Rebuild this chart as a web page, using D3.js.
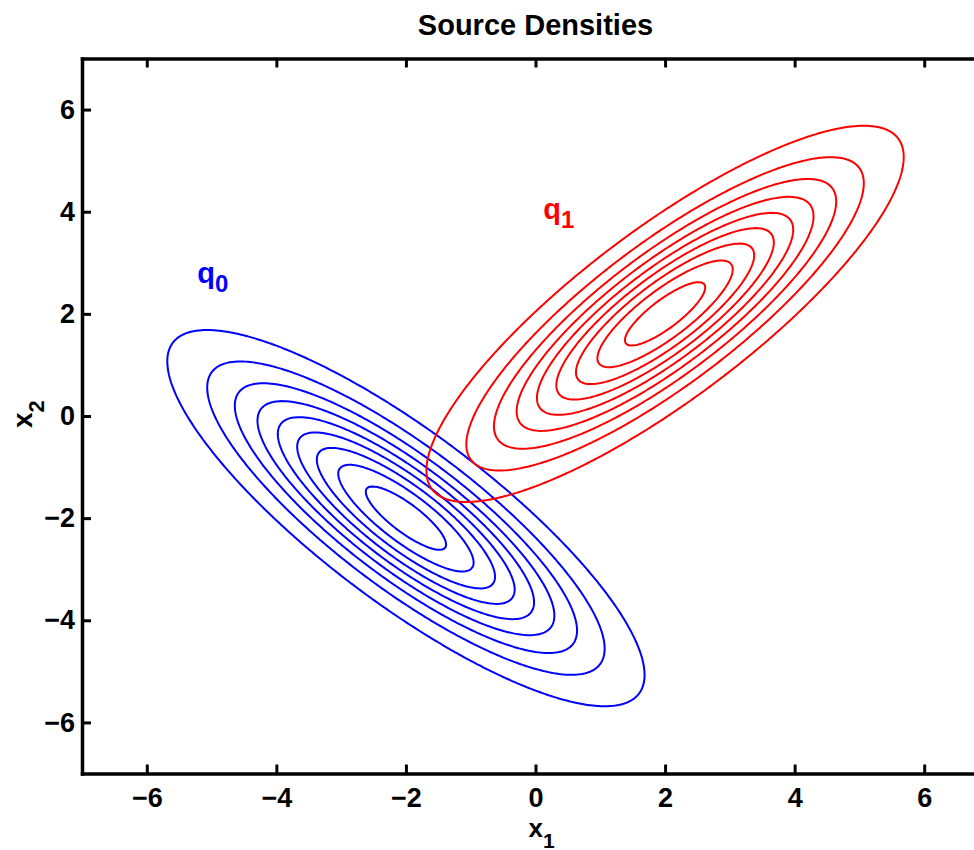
<!DOCTYPE html>
<html>
<head>
<meta charset="utf-8">
<script src="https://cdn.jsdelivr.net/npm/d3@7"></script>
<style>
  body { margin: 0; background: #fff; }
  text { font-family: "Liberation Sans", Arial, Helvetica, sans-serif; font-weight: bold; }
</style>
</head>
<body>
<div id="container"></div>
<script>
/* CONSTANTS AND GLOBALS */
const width = 974,
  height = 850,
  margin = {top: 58.5, bottom: 76.5, left: 82, right: -15}

/* DATA - two gaussian sources */
const sourceNames = ["q0", "q1"]
const sourceMeans = [[-2, -2], [2, 2]]
const sourceCovs = [[[3, -2.5], [-2.5, 3]], [[3, 2.5], [2.5, 3]]]
const sourceColors = ["#0000ff", "#ff0000"]
const contourLevels = [0.01, 0.02, 0.03, 0.04, 0.05, 0.06, 0.07, 0.08, 0.09]
const labelSubs = ["0", "1"]
const labelSpots = [[-5.22, 2.6], [0.12, 3.85]]   // where q0 / q1 text sits (data units)
const xTicks = [-6, -4, -2, 0, 2, 4, 6]
const yTicks = [-6, -4, -2, 0, 2, 4, 6]
const xDomain = [-7, 7], yDomain = [-7, 7]

// SCALES
const xScale = d3.scaleLinear()
  .domain(xDomain)
  .range([margin.left, width - margin.right])

const yScale = d3.scaleLinear()
  .domain(yDomain)
  .range([height - margin.bottom, margin.top])

// CREATE SVG ELEMENT
const svg = d3.select("#container").append("svg")
  .attr("width", width)
  .attr("height", height)
  .style("background-color", "white")

svg.append("clipPath").attr("id", "plot-clip")
  .append("rect")
  .attr("x", xScale(xDomain[0])).attr("y", yScale(yDomain[1]))
  .attr("width", xScale(xDomain[1]) - xScale(xDomain[0]))
  .attr("height", yScale(yDomain[0]) - yScale(yDomain[1]))

// DENSITY GRID + CONTOURS
const step = 0.04
const n = Math.round((xDomain[1] - xDomain[0]) / step) + 1

function gaussGrid(mu, cov) {
  const det = cov[0][0] * cov[1][1] - cov[0][1] * cov[1][0]
  const ia = cov[1][1] / det, ib = -cov[0][1] / det, id = cov[0][0] / det
  const norm = 1 / (2 * Math.PI * Math.sqrt(det))
  const vals = new Float64Array(n * n)
  for (let j = 0; j < n; j++) {
    const dy = yDomain[0] + j * step - mu[1]
    for (let i = 0; i < n; i++) {
      const dx = xDomain[0] + i * step - mu[0]
      const q = ia * dx * dx + 2 * ib * dx * dy + id * dy * dy
      vals[j * n + i] = norm * Math.exp(-0.5 * q)
    }
  }
  return vals
}

const gridToPx = d3.geoTransform({
  point: function(gx, gy) {
    this.stream.point(
      xScale(xDomain[0] + (gx - 0.5) * step),
      yScale(yDomain[0] + (gy - 0.5) * step))
  }
})
const path = d3.geoPath(gridToPx)

const plot = svg.append("g").attr("clip-path", "url(#plot-clip)")

sourceNames.forEach((name, k) => {
  const contours = d3.contours()
    .size([n, n])
    .thresholds(contourLevels)(gaussGrid(sourceMeans[k], sourceCovs[k]))

  plot.append("g")
    .attr("class", name)
    .selectAll("path")
    .data(contours)
    .join("path")
    .attr("d", path)
    .attr("fill", "none")
    .attr("stroke", sourceColors[k])
    .attr("stroke-width", 2)
    .attr("stroke-linejoin", "round")
})

// SOURCE LABELS
sourceNames.forEach((name, k) => {
  const t = svg.append("text")
    .attr("x", xScale(labelSpots[k][0]))
    .attr("y", yScale(labelSpots[k][1]))
    .attr("fill", sourceColors[k])
    .style("font-size", "29px")
  t.append("tspan").text("q")
  t.append("tspan").attr("dy", "0.35em").style("font-size", "24px").text(labelSubs[k])
})

// BUILD AND CALL AXES
const tickLen = 9
const xAxis = d3.axisBottom(xScale).tickValues(xTicks).tickSize(-tickLen).tickSizeOuter(0).tickPadding(14)
const xAxisTop = d3.axisTop(xScale).tickValues(xTicks).tickSize(-tickLen).tickSizeOuter(0).tickFormat("")
const yAxis = d3.axisLeft(yScale).tickValues(yTicks).tickSize(-tickLen).tickSizeOuter(0).tickPadding(7)
const yAxisRight = d3.axisRight(yScale).tickValues(yTicks).tickSize(-tickLen).tickSizeOuter(0).tickFormat("")

const gx = svg.append("g").attr("transform", `translate(0,${yScale(yDomain[0])})`).call(xAxis)
const gxt = svg.append("g").attr("transform", `translate(0,${yScale(yDomain[1])})`).call(xAxisTop)
const gy = svg.append("g").attr("transform", `translate(${xScale(xDomain[0])},0)`).call(yAxis)
const gyr = svg.append("g").attr("transform", `translate(${xScale(xDomain[1])},0)`).call(yAxisRight)

;[gx, gxt, gy, gyr].forEach(g => {
  g.select(".domain").attr("stroke", "black").attr("stroke-width", 3.5).attr("stroke-linecap", "square")
  g.selectAll(".tick line").attr("stroke", "black").attr("stroke-width", 3)
  g.selectAll(".tick text").attr("fill", "black").style("font-size", "27px")
    .style("font-family", "'Liberation Sans', Arial, sans-serif").style("font-weight", "bold")
})

// TITLE AND AXIS LABELS
svg.append("text")
  .attr("x", (xScale(xDomain[0]) + xScale(xDomain[1])) / 2)
  .attr("y", 35)
  .attr("text-anchor", "middle")
  .style("font-size", "29px")
  .text("Source Densities")

const xl = svg.append("text")
  .attr("x", xScale(0) - 7)
  .attr("y", 837)
  .style("font-size", "26px")
xl.append("tspan").text("x")
xl.append("tspan").attr("dy", "0.5em").style("font-size", "21px").text("1")

const yl = svg.append("text")
  .attr("transform", `translate(32,${yScale(0) + 12}) rotate(-90)`)
  .style("font-size", "28px")
yl.append("tspan").text("x")
yl.append("tspan").attr("dy", "0.55em").style("font-size", "22px").text("2")
</script>
</body>
</html>
